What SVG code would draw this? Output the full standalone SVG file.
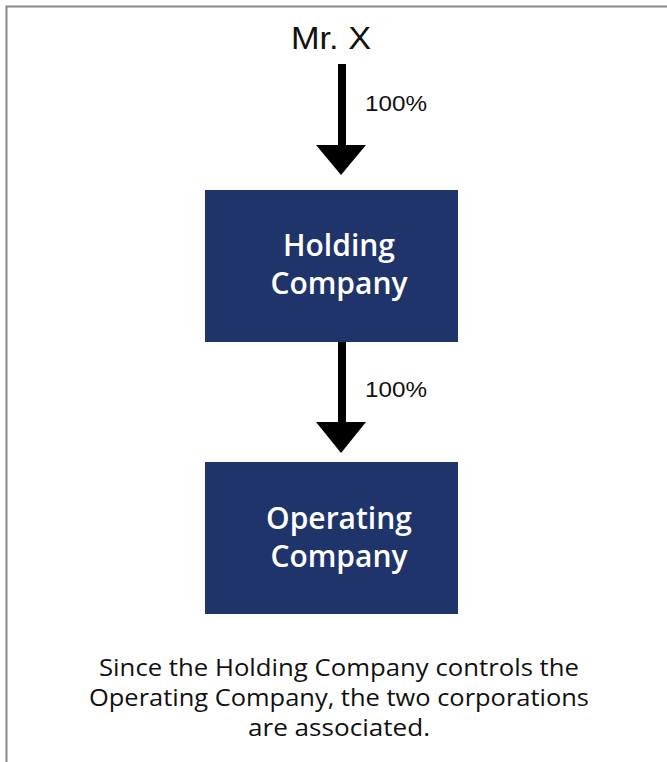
<svg xmlns="http://www.w3.org/2000/svg" width="667" height="762" viewBox="0 0 667 762">
<style>
.box{fill:#1f346b}
.lbl{font-family:"Open Sans","Liberation Sans",sans-serif;font-size:30px;font-weight:600;fill:#fff;text-anchor:middle}
.pct{font-family:"Liberation Sans",sans-serif;font-size:22px;fill:#111}
.cap{font-family:"Open Sans","Liberation Sans",sans-serif;font-size:23px;fill:#111;text-anchor:middle}
</style>
<rect x="0" y="0" width="667" height="762" fill="#fff"/>
<path d="M6.5 762 V6.5 H667" fill="none" stroke="#888" stroke-width="2"/>
<g id="mrx"><text x="331" y="49" font-family="Liberation Sans, sans-serif" font-size="32" fill="#111" text-anchor="middle" textLength="80" lengthAdjust="spacingAndGlyphs">Mr. X</text></g>
<g id="holding"><rect class="box" x="205" y="190" width="253" height="152"/>
<text class="lbl" x="339" y="256">Holding</text>
<text class="lbl" x="339" y="294">Company</text></g>
<g id="operating"><rect class="box" x="205" y="462" width="253" height="152"/>
<text class="lbl" x="339" y="529">Operating</text>
<text class="lbl" x="339" y="567">Company</text></g>
<g id="connectors">
<rect x="338" y="64" width="8" height="82" fill="#000"/>
<polygon points="316,145 366,145 341,175" fill="#000"/>
<text class="pct" x="365" y="111" textLength="62" lengthAdjust="spacingAndGlyphs">100%</text>
<rect x="338" y="342" width="8" height="81" fill="#000"/>
<polygon points="316,422 366,422 341,453" fill="#000"/>
<text class="pct" x="365" y="397" textLength="62" lengthAdjust="spacingAndGlyphs">100%</text>
</g>
<g id="caption">
<text class="cap" x="339" y="676" textLength="480" lengthAdjust="spacingAndGlyphs">Since the Holding Company controls the</text>
<text class="cap" x="339" y="706" textLength="500" lengthAdjust="spacingAndGlyphs">Operating Company, the two corporations</text>
<text class="cap" x="339" y="736" textLength="182" lengthAdjust="spacingAndGlyphs">are associated.</text>
</g>
</svg>
